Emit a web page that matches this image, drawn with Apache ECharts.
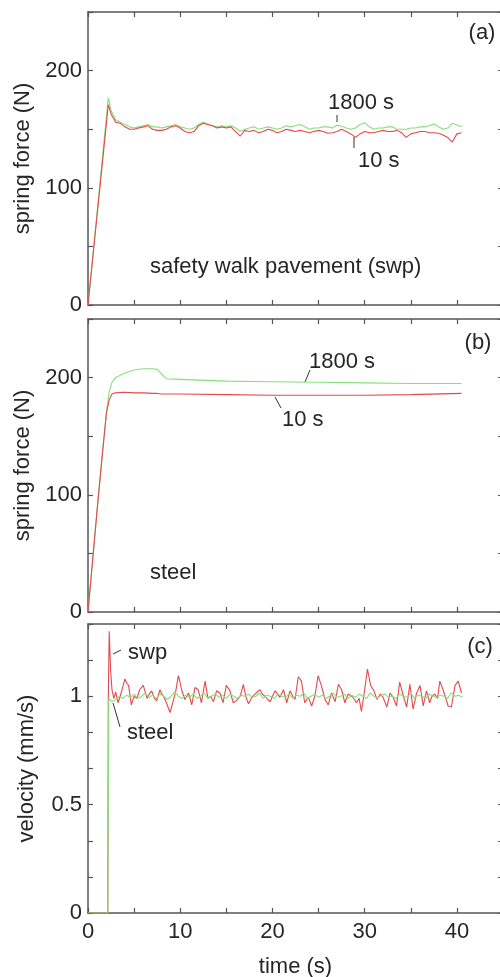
<!DOCTYPE html>
<html>
<head>
<meta charset="utf-8">
<script src="https://cdn.jsdelivr.net/npm/echarts/dist/echarts.min.js"></script>
<style>
  html, body { margin: 0; padding: 0; background: #fff; }
  #chart { width: 500px; height: 977px; }
</style>
</head>
<body>
<div id="chart"></div>
<script>
// ---- tick labels ----
const timeTicks = [0, 10, 20, 30, 40];
const forceTicks = [0, 100, 200];
const velTicks = [0, 0.5, 1];

// ---- (a) spring force on safety walk pavement (N) ----
const tA = [
  0, 2.2, 2.5, 3, 3.5, 4, 4.5, 5, 5.5, 6,
  6.5, 7, 7.5, 8, 8.5, 9, 9.5, 10, 10.5, 11,
  11.5, 12, 12.5, 13, 13.5, 14, 14.5, 15, 15.5, 16,
  16.5, 17, 17.5, 18, 18.5, 19, 19.5, 20, 20.5, 21,
  21.5, 22, 22.5, 23, 23.5, 24, 24.5, 25, 25.5, 26,
  26.5, 27, 27.5, 28, 28.5, 29, 29.5, 30, 30.5, 31,
  31.5, 32, 32.5, 33, 33.5, 34, 34.5, 35, 35.5, 36,
  36.5, 37, 37.5, 38, 38.5, 39, 39.5, 40, 40.5
];
const swpForce10 = [
  0, 171, 163, 156, 155, 152, 150, 150, 151, 152,
  153, 150, 149, 149, 150, 152, 153, 151, 148, 147,
  148, 153, 155, 154, 153, 151, 152, 151, 152, 148,
  144, 149, 148, 149, 147, 148, 150, 149, 147, 148,
  150, 149, 148, 149, 148, 147, 148, 149, 148, 146.5,
  147, 148, 150, 148, 146, 143, 146, 148, 147, 147,
  148, 149, 148, 148, 149, 147, 143, 146, 147, 148,
  148, 147, 147, 146.5, 145, 143, 139, 146, 147
];
const swpForce1800 = [
  0, 177, 166, 158, 156, 154, 152, 151, 152, 153,
  154, 152, 152, 151, 152, 153, 154, 152, 151, 150,
  151, 154, 156, 154, 153, 152, 153, 152, 153, 151,
  148, 150, 151, 152, 150, 151, 152, 151, 150, 151,
  153, 152, 153, 154, 152, 150, 151, 151, 152, 152,
  151, 153.5, 152.5, 151, 150, 151, 154, 155.5, 152, 150,
  151, 151, 152, 152, 150, 150, 150, 151, 151, 152,
  152, 153, 154.5, 152, 150, 151, 155, 153.5, 152
];

// ---- (b) spring force on steel (N) ----
const tB = [0, 1, 1.5, 2, 2.3, 2.6, 3, 4, 5, 6, 7, 7.5, 8, 8.5, 10, 15, 20, 25, 30, 35, 40.5];
const steelForce10 = [0, 88, 130, 170, 181, 186, 187, 187.5, 187, 187, 186.5, 186.5, 186, 186, 186, 185.5, 185, 185, 185, 185.5, 186.5];
const steelForce1800 = [0, 88, 130, 170, 188, 196, 200, 204, 206.5, 207.5, 207.5, 207, 203, 199, 198.5, 197, 196.5, 196, 195.5, 195, 195];

// ---- (c) velocity (mm/s) ----
const tSwpV = [
  0, 2.15, 2.2, 2.3, 2.45, 2.6, 2.8, 3.0, 3.25, 3.5,
  3.75, 4.0, 4.2, 4.4, 4.7, 5.0, 5.3, 5.6, 6.0, 6.2,
  6.4, 6.65, 6.9, 7.2, 7.45, 7.8, 8.0, 8.2, 8.5, 8.9,
  9.25, 9.5, 9.8, 10.0, 10.15, 10.5, 10.9, 11.25, 11.6, 11.95,
  12.3, 12.7, 13.0, 13.3, 13.6, 13.95, 14.3, 14.65, 15.0, 15.4,
  15.75, 16.1, 16.5, 16.85, 17.1, 17.4, 17.7, 18.1, 18.65, 18.9,
  19.2, 19.5, 19.75, 20.0, 20.3, 20.8, 21.2, 21.55, 21.9, 22.2,
  22.45, 22.8, 23.15, 23.5, 23.9, 24.25, 24.6, 24.95, 25.3, 25.7,
  26.05, 26.4, 26.8, 27.15, 27.5, 27.85, 28.2, 28.6, 28.9, 29.1,
  29.4, 29.65, 30.0, 30.3, 30.65, 31.0, 31.35, 31.7, 32.0, 32.4,
  32.75, 33.1, 33.45, 33.8, 34.2, 34.55, 34.9, 35.25, 35.6, 36.0,
  36.35, 36.7, 37.05, 37.3, 37.6, 37.9, 38.15, 38.5, 38.8, 39.05,
  39.4, 39.8, 40.15, 40.5
];
const swpVel = [
  0, 0, 0.98, 1.30, 1.12, 1.03, 0.99, 1.02, 0.97, 1.00,
  1.04, 1.08, 1.06, 1.05, 0.96, 1.00, 0.99, 1.03, 1.05, 1.02,
  0.99, 1.01, 1.025, 0.99, 0.98, 1.03, 1.01, 1.00, 0.97, 0.925,
  0.98, 1.02, 1.095, 1.06, 1.03, 0.985, 1.015, 0.96, 1.04, 1.03,
  0.97, 1.07, 0.99, 1.00, 0.975, 1.025, 1.015, 0.97, 1.05, 1.025,
  0.97, 0.98, 1.00, 1.055, 1.0, 0.965, 0.99, 1.01, 1.03, 1.01,
  1.00, 0.985, 0.975, 1.0, 1.025, 0.995, 1.03, 0.97, 1.025, 1.0,
  0.985, 1.09, 1.07, 0.97, 0.995, 0.955, 1.00, 1.095, 1.05, 0.985,
  0.96, 1.015, 0.975, 1.055, 1.03, 0.97, 1.01, 1.00, 0.985, 0.97,
  0.99, 0.93, 1.03, 1.125, 1.05, 1.025, 0.985, 1.01, 0.995, 0.95,
  1.015, 0.995, 0.955, 1.065, 1.0, 0.95, 1.055, 0.94, 1.01, 1.05,
  0.955, 1.025, 0.97, 1.0, 1.01, 0.99, 1.07, 1.03, 0.99, 0.955,
  0.95, 1.05, 1.07, 1.015
];
const tSteelV = [
  0, 2.15, 2.25, 2.6, 3.0, 3.4, 3.8, 4.2, 4.6, 5.0,
  5.4, 5.8, 6.2, 6.6, 7.0, 7.4, 7.8, 8.2, 8.6, 9.0,
  9.4, 9.8, 10.2, 10.6, 11.0, 11.4, 11.8, 12.2, 12.6, 13.0,
  13.4, 13.8, 14.2, 14.6, 15.0, 15.4, 15.8, 16.2, 16.6, 17.0,
  17.4, 17.8, 18.2, 18.6, 19.0, 19.4, 19.8, 20.2, 20.6, 21.0,
  21.4, 21.8, 22.2, 22.6, 23.0, 23.4, 23.8, 24.2, 24.6, 25.0,
  25.4, 25.8, 26.2, 26.6, 27.0, 27.4, 27.8, 28.2, 28.6, 29.0,
  29.4, 29.8, 30.2, 30.6, 31.0, 31.4, 31.8, 32.2, 32.6, 33.0,
  33.4, 33.8, 34.2, 34.6, 35.0, 35.4, 35.8, 36.2, 36.6, 37.0,
  37.4, 37.8, 38.2, 38.6, 39.0, 39.4, 39.8, 40.2, 40.6
];
const steelVel = [
  0, 0, 0.99, 0.975, 0.985, 1.0, 0.99, 1.005, 0.995, 1.01,
  0.99, 1.0, 1.015, 0.995, 1.005, 0.99, 1.01, 1.0, 0.985, 1.0,
  1.02, 1.0, 0.99, 1.005, 0.995, 1.01, 0.99, 1.0, 1.015, 0.99,
  1.0, 1.01, 0.995, 1.005, 0.99, 1.01, 1.0, 0.99, 1.005, 1.0,
  1.01, 0.995, 1.0, 1.015, 0.99, 1.005, 1.0, 0.99, 1.01, 1.0,
  0.995, 1.01, 0.99, 1.005, 1.0, 1.015, 0.99, 1.0, 1.01, 0.995,
  1.005, 0.99, 1.0, 1.015, 0.995, 1.0, 1.01, 0.99, 1.005, 0.995,
  1.01, 1.0, 0.99, 1.015, 1.0, 0.99, 1.005, 1.01, 0.995, 1.0,
  0.99, 1.01, 1.0, 0.995, 1.015, 0.99, 1.005, 1.0, 0.99, 1.01,
  1.0, 0.995, 1.005, 1.0, 0.99, 1.015, 1.0, 1.005, 0.995
];

// ---- styling ----
const FONT = '"Liberation Sans", Arial, Helvetica, sans-serif';
const FS = 22;
const TXT = '#262626';
const AXIS = '#555555';
const RED = '#e5484d';
const GREEN = '#86e07a';

const pairs = (xs, ys) => xs.map((x, i) => [x, ys[i]]);
const near = (list, v) => list.some(t => Math.abs(t - v) < 1e-6);

function xAxisFor(grid, position, labels, name) {
  return {
    type: 'value', gridIndex: grid, position: position,
    min: 0, max: 45, interval: 5,
    name: name || '', nameLocation: 'middle', nameGap: 43,
    nameTextStyle: { fontSize: FS, color: TXT, fontFamily: FONT },
    axisLine: { show: true, onZero: false, lineStyle: { color: AXIS, width: 1.5 } },
    axisTick: { show: true, inside: true, length: 5, lineStyle: { color: AXIS, width: 1.2 } },
    axisLabel: {
      show: labels, margin: 8, fontSize: FS, color: TXT, fontFamily: FONT,
      formatter: v => near(timeTicks, v) ? String(Math.round(v)) : ''
    },
    splitLine: { show: false }
  };
}

function yAxisFor(grid, position, labels, max, interval, ticks, name) {
  return {
    type: 'value', gridIndex: grid, position: position,
    min: 0, max: max, interval: interval,
    name: name || '', nameLocation: 'middle', nameGap: 50,
    nameTextStyle: { fontSize: FS, color: TXT, fontFamily: FONT },
    axisLine: { show: true, onZero: false, lineStyle: { color: AXIS, width: 1.5 } },
    axisTick: { show: true, inside: true, length: 5, lineStyle: { color: AXIS, width: 1.2 } },
    axisLabel: {
      show: labels, margin: 6, fontSize: FS, color: TXT, fontFamily: FONT,
      formatter: v => {
        const hit = ticks.find(t => Math.abs(t - v) < 1e-6);
        return hit === undefined ? '' : String(hit);
      }
    },
    splitLine: { show: false }
  };
}

function line(name, data, xi, yi, color) {
  return {
    type: 'line', name: name, data: data, xAxisIndex: xi, yAxisIndex: yi,
    showSymbol: false, symbol: 'none', smooth: false,
    lineStyle: { color: color, width: 1.1 }, itemStyle: { color: color },
    animation: false, silent: true
  };
}

function label(text, x, y, align) {
  return {
    type: 'text', x: x, y: y, silent: true,
    style: { text: text, fontSize: FS, fontFamily: FONT, fill: TXT, align: align || 'left', verticalAlign: 'middle' }
  };
}
function leader(x1, y1, x2, y2) {
  return {
    type: 'line', silent: true,
    shape: { x1: x1, y1: y1, x2: x2, y2: y2 },
    style: { stroke: '#333', lineWidth: 1 }
  };
}

const grids = [
  { left: 88, right: -3, top: 12, height: 293 },
  { left: 88, right: -3, top: 319, height: 293 },
  { left: 88, right: -3, top: 624, height: 289 }
].map(g => Object.assign({ containLabel: false, outerBoundsMode: 'none' }, g));

const option = {
  backgroundColor: '#ffffff',
  animation: false,
  grid: grids,
  xAxis: [
    xAxisFor(0, 'bottom', false), xAxisFor(0, 'top', false),
    xAxisFor(1, 'bottom', false), xAxisFor(1, 'top', false),
    xAxisFor(2, 'bottom', true, 'time (s)'), xAxisFor(2, 'top', false)
  ],
  yAxis: [
    yAxisFor(0, 'left', true, 250, 50, forceTicks, 'spring force (N)'), yAxisFor(0, 'right', false, 250, 50, forceTicks),
    yAxisFor(1, 'left', true, 250, 50, forceTicks, 'spring force (N)'), yAxisFor(1, 'right', false, 250, 50, forceTicks),
    yAxisFor(2, 'left', true, 4 / 3, 1 / 6, velTicks, 'velocity (mm/s)'), yAxisFor(2, 'right', false, 4 / 3, 1 / 6, velTicks)
  ],
  series: [
    line('swp 1800 s', pairs(tA, swpForce1800), 0, 0, GREEN),
    line('swp 10 s', pairs(tA, swpForce10), 0, 0, RED),
    line('steel 1800 s', pairs(tB, steelForce1800), 2, 2, GREEN),
    line('steel 10 s', pairs(tB, steelForce10), 2, 2, RED),
    line('swp', pairs(tSwpV, swpVel), 4, 4, RED),
    line('steel', pairs(tSteelV, steelVel), 4, 4, GREEN)
  ],
  graphic: [
    label('(a)', 482, 33, 'center'),
    label('1800 s', 328, 103),
    leader(337, 115, 337, 122),
    label('10 s', 358, 161),
    leader(354, 137, 354, 148),
    label('safety walk pavement (swp)', 150, 267),

    label('(b)', 478, 343, 'center'),
    label('1800 s', 309, 362),
    leader(305, 382, 310, 370),
    label('10 s', 282, 420),
    leader(275, 397, 281, 408),
    label('steel', 150, 573),

    label('(c)', 480, 647, 'center'),
    label('swp', 128, 653),
    leader(113, 654, 121, 650),
    label('steel', 127, 733),
    leader(113, 703, 120, 727)
  ]
};

const chart = echarts.init(document.getElementById('chart'), null, { renderer: 'canvas' });
chart.setOption(option);
</script>
</body>
</html>
